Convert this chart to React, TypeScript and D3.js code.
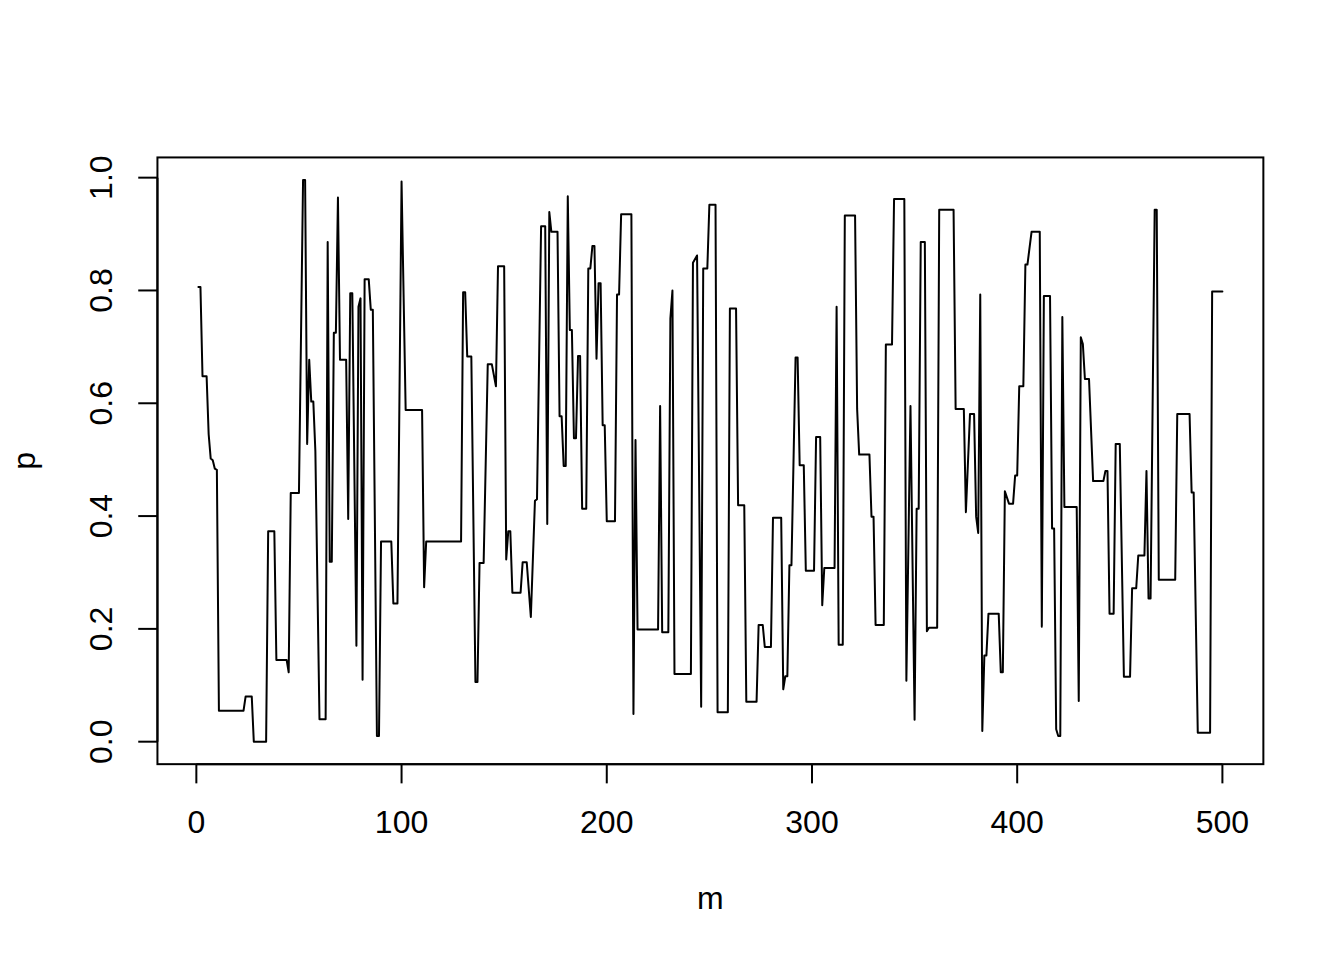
import React from 'react';
import * as d3 from 'd3';

type Pt = [number, number];

// polyline vertices (m, p), m = 1..100
const segA: Pt[] = [
  [1, 0.806], [2, 0.806], [3, 0.648], [5, 0.648], [6, 0.545], [7, 0.502], [8, 0.499], [9, 0.484], [10, 0.482],
  [11, 0.055], [23, 0.055], [24, 0.08], [27, 0.08], [28, 0.0], [34, 0.0], [35, 0.373], [38, 0.373],
  [39, 0.145], [44, 0.145], [45, 0.123], [46, 0.441], [50, 0.441], [52, 0.996], [53, 0.996], [54, 0.528],
  [55, 0.677], [56, 0.603], [57, 0.603], [58, 0.515], [60, 0.04], [63, 0.04], [64, 0.886], [65, 0.319],
  [66, 0.319], [67, 0.725], [68, 0.725], [69, 0.965], [70, 0.677], [73, 0.677], [74, 0.395], [75, 0.795],
  [76, 0.795], [78, 0.17], [79, 0.771], [80, 0.786], [81, 0.11], [82, 0.82], [84, 0.82], [85, 0.766],
  [86, 0.766], [88, 0.01], [89, 0.01], [90, 0.355], [95, 0.355], [96, 0.245], [98, 0.245], [100, 0.993],
];
// m = 101..200
const segB: Pt[] = [
  [102, 0.588], [110, 0.588], [111, 0.274], [112, 0.355], [129, 0.355], [130, 0.797], [131, 0.797],
  [132, 0.683], [134, 0.683], [136, 0.106], [137, 0.106], [138, 0.317], [140, 0.317], [142, 0.669],
  [144, 0.669], [146, 0.63], [147, 0.843], [150, 0.843], [151, 0.323], [152, 0.373], [153, 0.373],
  [154, 0.264], [158, 0.264], [159, 0.318], [161, 0.318], [163, 0.221], [165, 0.427], [166, 0.43],
  [168, 0.914], [170, 0.914], [171, 0.386], [172, 0.939], [173, 0.904], [176, 0.904], [177, 0.577],
  [178, 0.577], [179, 0.489], [180, 0.489], [181, 0.967], [182, 0.73], [183, 0.73], [184, 0.538],
  [185, 0.538], [186, 0.684], [187, 0.684], [188, 0.413], [190, 0.413], [191, 0.839], [192, 0.839],
  [193, 0.879], [194, 0.879], [195, 0.679], [196, 0.813], [197, 0.813], [198, 0.561], [199, 0.561],
  [200, 0.391],
];
// m = 201..300
const segC: Pt[] = [
  [204, 0.391], [205, 0.793], [206, 0.793], [207, 0.935], [212, 0.935], [213, 0.049], [214, 0.535],
  [215, 0.199], [225, 0.199], [226, 0.595], [227, 0.194], [230, 0.194], [231, 0.75], [232, 0.8],
  [233, 0.12], [241, 0.12], [242, 0.849], [244, 0.862], [246, 0.062], [247, 0.839], [249, 0.839],
  [250, 0.952], [253, 0.952], [254, 0.052], [259, 0.052], [260, 0.768], [263, 0.768], [264, 0.419],
  [267, 0.419], [268, 0.071], [273, 0.071], [274, 0.207], [276, 0.207], [277, 0.168], [280, 0.168],
  [281, 0.397], [285, 0.397], [286, 0.093], [287, 0.116], [288, 0.116], [289, 0.313], [290, 0.313],
  [292, 0.681], [293, 0.681], [294, 0.49], [296, 0.49], [297, 0.303],
];
// m = 301..400
const segD: Pt[] = [
  [301, 0.303], [302, 0.54], [304, 0.54], [305, 0.242], [306, 0.308], [311, 0.308], [312, 0.771],
  [313, 0.172], [315, 0.172], [316, 0.933], [321, 0.933], [322, 0.59], [323, 0.509], [328, 0.509],
  [329, 0.399], [330, 0.399], [331, 0.207], [335, 0.207], [336, 0.704], [339, 0.704], [340, 0.962],
  [345, 0.962], [346, 0.108], [348, 0.595], [350, 0.039], [351, 0.413], [352, 0.413], [353, 0.886],
  [355, 0.886], [356, 0.196], [357, 0.202], [361, 0.202], [362, 0.943], [369, 0.943], [370, 0.59],
  [374, 0.59], [375, 0.407], [377, 0.581], [379, 0.581], [380, 0.399], [381, 0.37], [382, 0.793],
  [383, 0.019], [384, 0.153], [385, 0.153], [386, 0.227], [391, 0.227], [392, 0.123], [393, 0.123],
  [394, 0.444], [396, 0.422], [398, 0.422], [399, 0.472], [400, 0.472],
];
// m = 401..500
const segE: Pt[] = [
  [401, 0.63], [403, 0.63], [404, 0.846], [405, 0.846], [407, 0.904], [411, 0.904], [412, 0.204],
  [413, 0.79], [416, 0.79], [417, 0.378], [418, 0.378], [419, 0.022], [420, 0.01], [421, 0.01],
  [422, 0.753], [423, 0.416], [429, 0.416], [430, 0.072], [431, 0.717], [432, 0.705], [433, 0.643],
  [435, 0.643], [437, 0.462], [442, 0.462], [443, 0.48], [444, 0.48], [445, 0.227], [447, 0.227],
  [448, 0.528], [450, 0.528], [452, 0.115], [455, 0.115], [456, 0.272], [458, 0.272], [459, 0.33],
  [462, 0.33], [463, 0.48], [464, 0.254], [465, 0.254], [467, 0.943], [468, 0.943], [469, 0.287],
  [477, 0.287], [478, 0.581], [484, 0.581], [485, 0.442], [486, 0.442], [488, 0.016], [494, 0.016],
  [495, 0.798], [500, 0.798],
];

const xTicks = [0, 100, 200, 300, 400, 500];
const yTicks = [0, 0.2, 0.4, 0.6, 0.8, 1.0];
const xTitle = 'm';
const yTitle = 'p';

const series: Pt[] = [...segA, ...segB, ...segC, ...segD, ...segE];

export default function App() {
  const W = 1344;
  const H = 960;
  const LH = 38.4; // one R margin line at 192 dpi
  const left = 4.1 * LH;
  const right = W - 2.1 * LH;
  const top = 4.1 * LH;
  const bottom = H - 5.1 * LH;

  const [x0, x1] = d3.extent(series, (d) => d[0]) as [number, number];
  const [y0, y1] = d3.extent(series, (d) => d[1]) as [number, number];
  const x = d3
    .scaleLinear()
    .domain([x0 - 0.04 * (x1 - x0), x1 + 0.04 * (x1 - x0)])
    .range([left, right]);
  const y = d3
    .scaleLinear()
    .domain([y0 - 0.04 * (y1 - y0), y1 + 0.04 * (y1 - y0)])
    .range([bottom, top]);

  const line = d3
    .line<Pt>()
    .x((d) => x(d[0]))
    .y((d) => y(d[1]));

  const tick = 0.5 * LH;
  const font = "'Liberation Sans', Arial, Helvetica, sans-serif";
  const fs = 32;
  const ylabX = left - LH - 7.3;

  return (
    <svg
      width={W}
      height={H}
      style={{ position: 'absolute', left: 0, top: 0, background: '#fff' }}
      fontFamily={font}
    >
      <rect x={0} y={0} width={W} height={H} fill="#fff" />
      <path
        d={line(series) || ''}
        fill="none"
        stroke="#000"
        strokeWidth={2}
        strokeLinejoin="round"
        strokeLinecap="round"
      />
      <rect
        x={left}
        y={top}
        width={right - left}
        height={bottom - top}
        fill="none"
        stroke="#000"
        strokeWidth={2}
      />
      {/* x axis */}
      <line x1={x(xTicks[0])} x2={x(xTicks[xTicks.length - 1])} y1={bottom} y2={bottom} stroke="#000" strokeWidth={2} />
      {xTicks.map((t) => (
        <g key={'x' + t}>
          <line x1={x(t)} x2={x(t)} y1={bottom} y2={bottom + tick} stroke="#000" strokeWidth={2} />
          <text x={x(t)} y={833} fontSize={fs} textAnchor="middle" fill="#000">
            {String(t)}
          </text>
        </g>
      ))}
      {/* y axis */}
      <line x1={left} x2={left} y1={y(yTicks[0])} y2={y(yTicks[yTicks.length - 1])} stroke="#000" strokeWidth={2} />
      {yTicks.map((t) => (
        <g key={'y' + t}>
          <line x1={left - tick} x2={left} y1={y(t)} y2={y(t)} stroke="#000" strokeWidth={2} />
          <text
            x={ylabX}
            y={y(t)}
            fontSize={fs}
            textAnchor="middle"
            fill="#000"
            transform={`rotate(-90, ${ylabX}, ${y(t)})`}
          >
            {t.toFixed(1)}
          </text>
        </g>
      ))}
      <text x={(left + right) / 2} y={909} fontSize={fs} textAnchor="middle" fill="#000">
        {xTitle}
      </text>
      <text
        x={35}
        y={(top + bottom) / 2}
        fontSize={fs}
        textAnchor="middle"
        fill="#000"
        transform={`rotate(-90, 35, ${(top + bottom) / 2})`}
      >
        {yTitle}
      </text>
    </svg>
  );
}
